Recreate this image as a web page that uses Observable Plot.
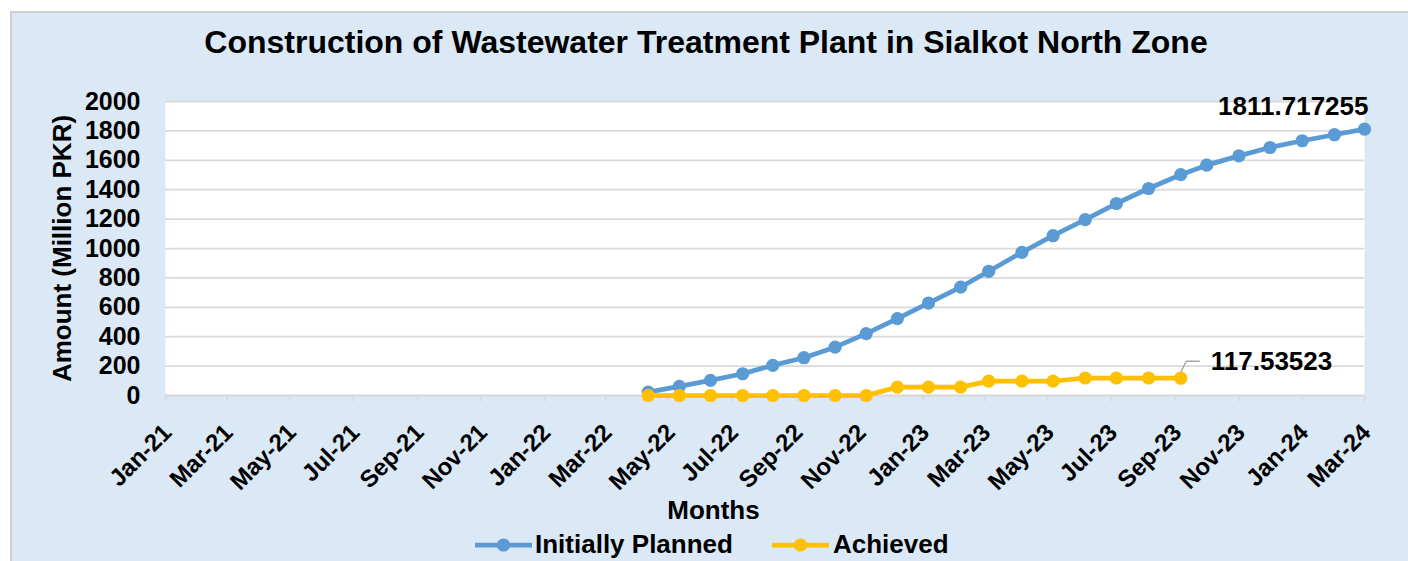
<!DOCTYPE html>
<html>
<head>
<meta charset="utf-8">
<script src="https://cdn.jsdelivr.net/npm/d3@7"></script>
<script src="https://cdn.jsdelivr.net/npm/@observablehq/plot@0.6"></script>
<style>
  html, body { margin: 0; padding: 0; background: #ffffff; overflow: hidden; }
  #wrap { position: relative; width: 1408px; height: 561px; overflow: hidden;
          font-family: "Liberation Sans", Arial, sans-serif; font-weight: bold; color: #000; }
  #bg { position: absolute; left: 10px; top: 11px; right: 0; bottom: 0;
        background: #dbe8f5; border-left: 2px solid #d0d0d0; border-top: 2px solid #d0d0d0; }
  #chart { position: absolute; left: 0; top: 0; }
  .t { position: absolute; white-space: nowrap; }
</style>
</head>
<body>
<div id="wrap">
  <div id="bg"></div>
  <div id="chart"></div>
  <div class="t" id="title" style="left:0;width:1412px;text-align:center;top:26px;font-size:32px;line-height:32px;"></div>
  <div class="t" id="xlabel" style="left:613px;width:201px;text-align:center;top:497px;font-size:26px;line-height:26px;"></div>
  <div id="legend"></div>
</div>
<script>
// ---- text ----
const titleText = "Construction of Wastewater Treatment Plant in Sialkot North Zone";
const xAxisTitle = "Months";
const yAxisTitle = "Amount (Million PKR)";

// ---- axis tick labels ----
const tickLabels = ["Jan-21","Mar-21","May-21","Jul-21","Sep-21","Nov-21",
                    "Jan-22","Mar-22","May-22","Jul-22","Sep-22","Nov-22",
                    "Jan-23","Mar-23","May-23","Jul-23","Sep-23","Nov-23",
                    "Jan-24","Mar-24"];
const yTicks = [0, 200, 400, 600, 800, 1000, 1200, 1400, 1600, 1800, 2000];

// ---- series ----
const seriesNames = ["Initially Planned", "Achieved"];
const seriesColors = ["#5B9BD5", "#FFC000"];
const pointDates = ["2022-04-11","2022-05-11","2022-06-10","2022-07-11","2022-08-09","2022-09-08",
                    "2022-10-08","2022-11-07","2022-12-07","2023-01-06","2023-02-06","2023-03-05",
                    "2023-04-06","2023-05-06","2023-06-06","2023-07-06","2023-08-06","2023-09-06",
                    "2023-10-01","2023-11-01","2023-12-01","2024-01-01","2024-02-01","2024-03-01"];
const planned = [23, 62, 103, 148, 205, 257, 329, 421, 523, 629, 737, 845,
                 974, 1087, 1196, 1306, 1408, 1502, 1567, 1630, 1687, 1733, 1774, 1811.717255];
const achieved = [0, 0, 0, 0, 0, 0, 0, 0, 57, 57, 57, 98,
                  98, 98, 119, 119, 119, 117.53523];

// ---- build tables ----
const parseLabel = d3.utcParse("%b-%y");
const tickDates = tickLabels.map(parseLabel);
const plannedData = planned.map((v, i) => ({date: new Date(pointDates[i] + "T00:00:00Z"), value: v}));
const achievedData = achieved.map((v, i) => ({date: new Date(pointDates[i] + "T00:00:00Z"), value: v}));

const tickMark = {draw(ctx) { ctx.moveTo(0, 0); ctx.lineTo(0, 6); }};
const leader = {draw(ctx) { ctx.moveTo(0.5, -7); ctx.lineTo(5.5, -17); ctx.lineTo(18.5, -17); }};

const chart = Plot.plot({
  width: 1408,
  height: 561,
  marginLeft: 165,
  marginRight: 44,
  marginTop: 101,
  marginBottom: 166,
  style: {background: "transparent", fontFamily: "'Liberation Sans', Arial, sans-serif",
          fontWeight: "bold", color: "#000", overflow: "visible"},
  x: {type: "utc", domain: [tickDates[0], tickDates[tickDates.length - 1]], axis: null},
  y: {domain: [0, 2000]},
  marks: [
    Plot.frame({fill: "white", stroke: "none"}),
    Plot.gridY(yTicks, {stroke: "#d9d9d9", strokeOpacity: 1, strokeWidth: 1.75}),
    Plot.ruleY([0], {stroke: "#d9d9d9", strokeWidth: 2}),
    Plot.dot(tickDates, {x: d => d, y: () => 0, symbol: tickMark, stroke: "#d9d9d9", strokeWidth: 1.5, fill: "none"}),
    Plot.axisY(yTicks, {tickSize: 0, tickPadding: 25, fontSize: 25, label: null, fill: "#000",
      tickFormat: d => String(d)}),
    Plot.text(tickDates, {x: d => d, frameAnchor: "bottom", dx: 2, dy: 33, rotate: -45,
      textAnchor: "end", lineAnchor: "middle", text: (d, i) => tickLabels[i], fontSize: 24, fill: "#000"}),
    Plot.text([yAxisTitle], {frameAnchor: "left", dx: -102.5, rotate: -90, text: d => d,
      fontSize: 26, textAnchor: "middle", lineAnchor: "middle", fill: "#000"}),
    Plot.line(plannedData, {x: "date", y: "value", stroke: seriesColors[0], strokeWidth: 4.75}),
    Plot.dot(plannedData, {x: "date", y: "value", r: 6.6, fill: seriesColors[0]}),
    Plot.line(achievedData, {x: "date", y: "value", stroke: seriesColors[1], strokeWidth: 4.75}),
    Plot.dot(achievedData, {x: "date", y: "value", r: 6.6, fill: seriesColors[1]}),
    Plot.vector([achievedData[achievedData.length - 1]], {x: "date", y: "value", shape: leader,
      length: 17, anchor: "start", stroke: "#a6a6a6", strokeWidth: 1.5}),
    Plot.text([plannedData[plannedData.length - 1]], {x: "date", y: "value", text: d => String(d.value),
      textAnchor: "end", lineAnchor: "middle", dx: 4, dy: -23, fontSize: 26, fill: "#000"}),
    Plot.text([achievedData[achievedData.length - 1]], {x: "date", y: "value", text: d => String(d.value),
      textAnchor: "start", lineAnchor: "middle", dx: 30, dy: -17, fontSize: 26, fill: "#000"})
  ]
});
document.getElementById("chart").appendChild(chart);

document.getElementById("title").textContent = titleText;
document.getElementById("xlabel").textContent = xAxisTitle;

// ---- legend ----
const legendX = [[475, 535], [772, 833]];
const legend = document.getElementById("legend");
seriesNames.forEach((name, i) => {
  const sw = document.createElementNS("http://www.w3.org/2000/svg", "svg");
  sw.setAttribute("width", 57); sw.setAttribute("height", 26);
  sw.style.position = "absolute"; sw.style.left = legendX[i][0] + "px"; sw.style.top = "531px";
  sw.innerHTML = `<line x1="0" x2="57" y1="14" y2="14" stroke="${seriesColors[i]}" stroke-width="4.75"/>` +
                 `<circle cx="28.5" cy="14" r="6.6" fill="${seriesColors[i]}"/>`;
  legend.appendChild(sw);
  const lab = document.createElement("div");
  lab.className = "t";
  lab.style.left = legendX[i][1] + "px"; lab.style.top = "531px";
  lab.style.fontSize = "26px"; lab.style.lineHeight = "26px";
  lab.textContent = name;
  legend.appendChild(lab);
});
</script>
</body>
</html>
